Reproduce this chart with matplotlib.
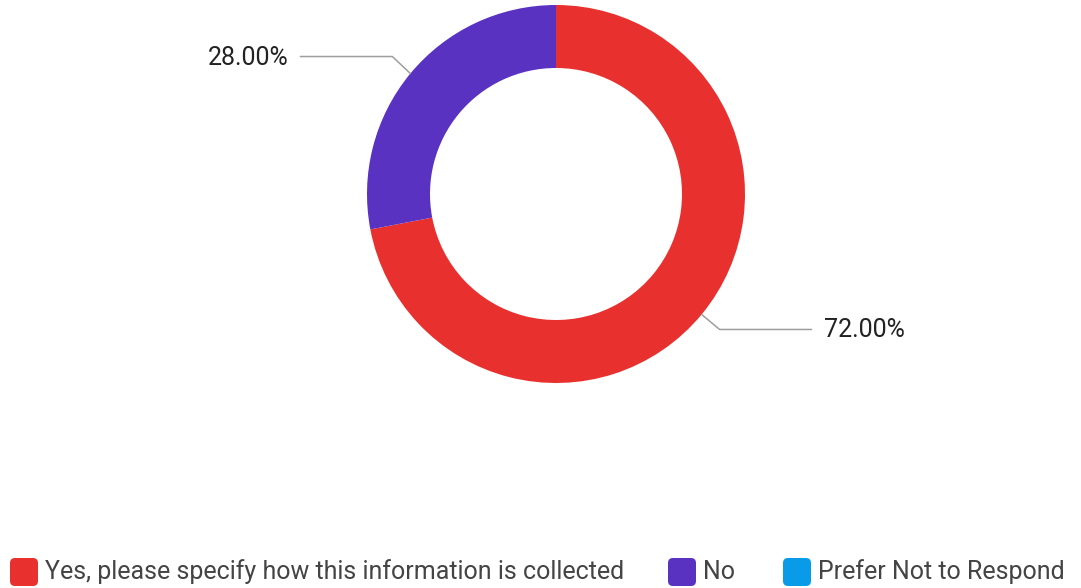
import matplotlib.pyplot as plt
import numpy as np
from matplotlib.patches import FancyBboxPatch

plt.rcParams['font.family'] = ['Roboto', 'DejaVu Sans']

# Dữ liệu biểu đồ
labels = ['Yes, please specify how this information is collected', 'No', 'Prefer Not to Respond']
values = [72.0, 28.0, 0.0]
colors = ['#E8312F', '#5A32C2', '#0A9BE8']

W, H = 1081, 588
fig = plt.figure(figsize=(W / 100, H / 100), dpi=100)
ax = fig.add_axes([0, 0, 1, 1])

# Vẽ donut theo toạ độ pixel (gốc ở dưới)
cx, cy, R = 556, H - 194, 189
wedges, _ = ax.pie(values, colors=colors, startangle=90, counterclock=False,
                   center=(cx, cy), radius=R, frame=True,
                   wedgeprops=dict(width=63, linewidth=0))
ax.set_xlim(0, W)
ax.set_ylim(0, H)
ax.set_aspect('equal')
ax.axis('off')

# Nhãn phần trăm với đường dẫn
for w, v in zip(wedges, values):
    if v <= 0:
        continue
    ang = np.deg2rad((w.theta1 + w.theta2) / 2)
    x0 = cx + R * np.cos(ang)
    y0 = cy + R * np.sin(ang)
    side = 1 if np.cos(ang) > 0 else -1
    x1 = x0 + side * 18
    y1 = y0 + (17 if np.sin(ang) > 0 else -15)
    x2 = x1 + side * 92
    ax.plot([x0, x1, x2], [y0, y1, y1], color='#9e9e9e', lw=1.1, solid_capstyle='round')
    ax.text(x2 + side * 12, y1 - 1, '%.2f%%' % v, ha='left' if side > 0 else 'right',
            va='center', fontsize=18, color='#222222')

# Chú thích ở dưới
leg_x = [10, 668, 783]
leg_y = H - 572
for x, lab, c in zip(leg_x, labels, colors):
    box = FancyBboxPatch((x + 3, leg_y - 11), 22, 22,
                         boxstyle='round,pad=3,rounding_size=5',
                         fc=c, ec='none')
    ax.add_patch(box)
    ax.text(x + 35, leg_y, lab, ha='left', va='center', fontsize=18, color='#444444')

fig.savefig('out.png', dpi=100, facecolor='white')
